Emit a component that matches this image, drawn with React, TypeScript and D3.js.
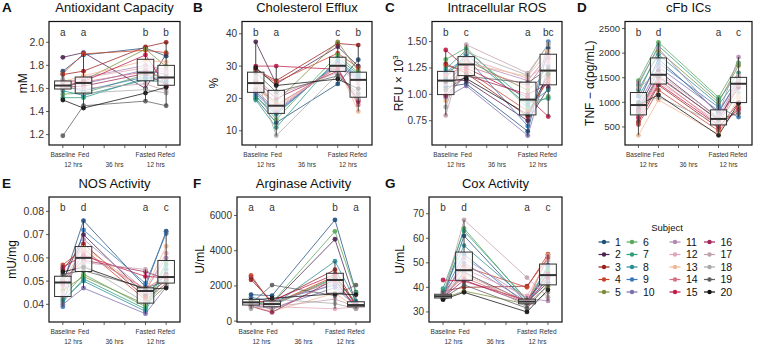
import React from 'react';
import * as d3 from 'd3';

// ---------- DATA ----------
const subjects = d3.range(1, 21).map(String);
const subjectColors = ['#1d4f7c', '#4e2152', '#9a1f1f', '#c9432b', '#7d8c3a', '#58a85a', '#2f9d7c', '#2a8d96', '#3b78b8', '#7c6eb0',
  '#b189b4', '#e2a6b8', '#f0b894', '#d66f80', '#c01c4a', '#a0285a', '#c2a1aa', '#a9a9a9', '#5e5e5e', '#111111'];

const timepoints = ['Baseline', 'Fed', 'Fasted', 'Refed'];
const timeX = [1, 2, 5, 6];
const axisTicks = [1, 2, 3, 4, 5, 6];
const tickLabels = ['Baseline', 'Fed', '', '', 'Fasted', 'Refed'];
const durationPos = [1.5, 3.5, 5.5];
const durationText = ['12 hrs', '36 hrs', '12 hrs'];

// A: Antioxidant Capacity (mM)
const antioxBaseline = [1.75, 1.87, 1.72, 1.73, 1.60, 1.55, 1.52, 1.58, 1.62, 1.63, 1.64, 1.65, 1.66, 1.66, 1.62, 1.61, 1.60, 1.68, 1.19, 1.50];
const antioxFed = [1.89, 1.91, 1.75, 1.90, 1.67, 1.56, 1.52, 1.54, 1.58, 1.64, 1.695, 1.69, 1.71, 1.655, 1.66, 1.62, 1.60, 1.56, 1.45, 1.43];
const antioxFasted = [1.95, 1.60, 1.96, 1.93, 1.94, 1.72, 1.69, 1.675, 1.70, 1.76, 1.80, 1.78, 1.84, 1.745, 1.89, 1.73, 1.64, 1.59, 1.49, 1.56];
const antioxRefed = [1.88, 1.90, 2.00, 1.91, 1.79, 1.70, 1.66, 1.65, 1.68, 1.72, 1.76, 1.74, 1.83, 1.69, 1.62, 1.63, 1.58, 1.56, 1.45, 1.61];

// B: Cholesterol Efflux (%)
const effluxBaseline = [20.0, 37.5, 29.0, 28.5, 23.0, 21.0, 19.5, 20.5, 21.5, 22.0, 22.5, 24.0, 24.5, 25.0, 30.0, 25.5, 26.0, 27.0, 28.0, 29.5];
const effluxFed = [12.5, 24.5, 25.5, 25.0, 19.0, 13.5, 11.0, 15.0, 15.5, 16.0, 16.5, 17.0, 17.5, 18.0, 30.0, 20.0, 21.0, 8.5, 22.0, 24.0];
const effluxFasted = [24.5, 36.0, 37.0, 34.0, 37.5, 33.5, 32.5, 31.5, 31.0, 30.5, 30.2, 30.0, 29.8, 29.5, 29.0, 28.5, 28.0, 27.5, 27.0, 26.0];
const effluxRefed = [32.0, 30.0, 36.5, 29.5, 28.5, 28.0, 27.5, 27.0, 26.5, 26.0, 25.5, 24.5, 16.0, 18.0, 19.0, 19.5, 20.0, 20.5, 21.5, 23.0];

// C: Intracellular ROS (RFU x 10^3)
const rosBaseline = [1.07, 1.14, 1.29, 1.27, 1.20, 1.33, 1.24, 1.16, 1.21, 0.97, 1.10, 1.00, 0.94, 1.18, 1.42, 0.99, 0.80, 0.88, 1.04, 1.12];
const rosFed = [1.10, 1.13, 1.20, 1.23, 1.32, 1.44, 1.42, 1.38, 1.35, 1.08, 1.31, 1.34, 1.295, 1.27, 1.25, 1.18, 1.47, 1.40, 1.17, 1.15];
const rosFasted = [0.65, 0.75, 0.79, 0.84, 1.04, 0.87, 0.93, 0.90, 0.70, 0.61, 1.13, 1.15, 1.17, 1.08, 0.97, 1.00, 1.20, 1.18, 1.11, 0.81];
const rosRefed = [1.44, 1.06, 1.16, 1.13, 1.21, 0.98, 0.96, 1.04, 1.50, 1.27, 1.37, 1.30, 1.41, 1.34, 0.79, 1.10, 1.47, 1.48, 1.24, 1.19];

// D: cFb ICs TNF-alpha (pg/mL)
const tnfBaseline = [1000, 870, 600, 550, 1180, 1440, 1350, 1260, 1120, 940, 1400, 730, 330, 750, 680, 830, 1300, 960, 790, 950];
const tnfFed = [1880, 1640, 1350, 1250, 2050, 2220, 2150, 1970, 1800, 1720, 2100, 1420, 1050, 1470, 1380, 1540, 1580, 1100, 1510, 1150];
const tnfFasted = [790, 675, 480, 420, 1000, 1100, 1050, 950, 900, 830, 740, 600, 350, 545, 530, 630, 700, 570, 650, 330];
const tnfRefed = [1480, 1300, 1000, 900, 1750, 1800, 1600, 1500, 700, 1420, 1920, 1530, 1100, 1360, 850, 1395, 1450, 1200, 780, 980];

// E: NOS Activity (mU/mg)
const nosBaseline = [0.049, 0.050, 0.055, 0.057, 0.046, 0.043, 0.041, 0.042, 0.039, 0.040, 0.0435, 0.045, 0.0498, 0.048, 0.056, 0.0505, 0.051, 0.0518, 0.053, 0.054];
const nosFed = [0.076, 0.070, 0.066, 0.064, 0.052, 0.053, 0.051, 0.050, 0.072, 0.047, 0.068, 0.063, 0.0645, 0.062, 0.061, 0.059, 0.058, 0.057, 0.0545, 0.056];
const nosFasted = [0.0475, 0.044, 0.043, 0.042, 0.040, 0.039, 0.038, 0.037, 0.049, 0.036, 0.046, 0.0455, 0.0462, 0.0468, 0.052, 0.054, 0.055, 0.0407, 0.047, 0.0465];
const nosRefed = [0.0715, 0.053, 0.0505, 0.049, 0.048, 0.0585, 0.057, 0.055, 0.0705, 0.0475, 0.060, 0.062, 0.065, 0.052, 0.0515, 0.051, 0.0485, 0.0492, 0.050, 0.047];

// F: Arginase Activity (U/mL)
const argBaseline = [1500, 2500, 2350, 2600, 1200, 1150, 1100, 1080, 1350, 900, 1030, 980, 870, 920, 1050, 830, 780, 700, 1000, 1180];
const argFed = [1450, 1010, 1100, 950, 920, 1050, 880, 850, 1130, 720, 650, 820, 550, 990, 1170, 500, 800, 1250, 2050, 1300];
const argFasted = [5750, 4650, 2920, 2550, 2480, 5100, 2420, 3400, 2050, 1900, 2200, 700, 1590, 2300, 2650, 2370, 1250, 1000, 1450, 1550];
const argRefed = [1650, 1000, 900, 950, 1090, 1600, 1050, 1130, 925, 870, 850, 800, 750, 780, 890, 720, 820, 700, 2050, 1500];

// G: Cox Activity (U/mL)
const coxBaseline = [36.0, 35.4, 38.5, 37.5, 35.5, 36.8, 39.5, 38.0, 37.1, 36.5, 35.2, 36.3, 36.6, 37.0, 43.0, 35.9, 36.2, 35.7, 35.6, 35.0];
const coxFed = [61.0, 46.0, 40.0, 48.5, 38.5, 64.0, 63.0, 57.0, 53.5, 50.0, 52.0, 47.5, 45.0, 44.0, 42.5, 43.0, 67.5, 46.5, 41.0, 38.0];
const coxFasted = [33.6, 34.0, 40.5, 40.0, 33.2, 34.5, 35.0, 35.1, 32.8, 34.1, 35.5, 36.5, 34.3, 33.8, 34.7, 33.35, 44.0, 32.0, 31.5, 30.0];
const coxRefed = [46.0, 42.0, 52.0, 53.5, 40.5, 47.0, 48.0, 44.5, 49.0, 43.0, 34.5, 51.0, 53.0, 52.5, 45.5, 44.0, 36.0, 38.0, 41.2, 39.0];

const sigA = ['a', 'a', 'b', 'b'];
const sigB = ['b', 'a', 'c', 'b'];
const sigC = ['b', 'c', 'a', 'bc'];
const sigD = ['b', 'd', 'a', 'c'];
const sigE = ['b', 'd', 'a', 'c'];
const sigF = ['a', 'a', 'b', 'a'];
const sigG = ['b', 'd', 'a', 'c'];

const ticksA = [1.2, 1.4, 1.6, 1.8, 2.0];
const ticksB = [10, 20, 30, 40];
const ticksC = [0.75, 1.0, 1.25, 1.5];
const ticksD = [500, 1000, 1500, 2000, 2500];
const ticksE = [0.04, 0.05, 0.06, 0.07, 0.08];
const ticksF = [0, 2000, 4000, 6000];
const ticksG = [30, 40, 50, 60, 70];

// ---------- LAYOUT ----------
const FONT = 'Liberation Sans, Arial, Helvetica, sans-serif';

type Panel = {
  letter: string; title: string; series: number[][]; sig: string[]; ticks: number[]; fmt: (v: number) => string;
  x0: number; x1: number; y0: number; y1: number; dom: [number, number]; letterX: number; ylabX: number;
  ylab: React.ReactNode; tickFont: number;
};

const panels: Panel[] = [
  { letter: 'A', title: 'Antioxidant Capacity', series: [antioxBaseline, antioxFed, antioxFasted, antioxRefed], sig: sigA, ticks: ticksA, fmt: d3.format('.1f'),
    x0: 49, x1: 180, y0: 21.5, y1: 145, dom: [1.11, 2.18], letterX: 2, ylabX: 23, ylab: 'mM', tickFont: 10.5 },
  { letter: 'B', title: 'Cholesterol Efflux', series: [effluxBaseline, effluxFed, effluxFasted, effluxRefed], sig: sigB, ticks: ticksB, fmt: d3.format('d'),
    x0: 242, x1: 372, y0: 21.5, y1: 145, dom: [5.6, 43.8], letterX: 193, ylabX: 214, ylab: '%', tickFont: 10 },
  { letter: 'C', title: 'Intracellular ROS', series: [rosBaseline, rosFed, rosFasted, rosRefed], sig: sigC, ticks: ticksC, fmt: d3.format('.2f'),
    x0: 432, x1: 562, y0: 21.5, y1: 145, dom: [0.52, 1.69], letterX: 385, ylabX: 399, ylab: null, tickFont: 10 },
  { letter: 'D', title: 'cFb ICs', series: [tnfBaseline, tnfFed, tnfFasted, tnfRefed], sig: sigD, ticks: ticksD, fmt: d3.format('d'),
    x0: 625, x1: 752, y0: 21.5, y1: 145, dom: [133, 2643], letterX: 577, ylabX: 590, ylab: null, tickFont: 9.5 },
  { letter: 'E', title: 'NOS Activity', series: [nosBaseline, nosFed, nosFasted, nosRefed], sig: sigE, ticks: ticksE, fmt: d3.format('.2f'),
    x0: 49, x1: 180, y0: 197, y1: 322, dom: [0.0324, 0.0862], letterX: 2, ylabX: 12, ylab: 'mU/mg', tickFont: 10.5 },
  { letter: 'F', title: 'Arginase Activity', series: [argBaseline, argFed, argFasted, argRefed], sig: sigF, ticks: ticksF, fmt: d3.format('d'),
    x0: 237, x1: 370, y0: 197, y1: 322, dom: [-50, 7050], letterX: 193, ylabX: 200, ylab: 'U/mL', tickFont: 10 },
  { letter: 'G', title: 'Cox Activity', series: [coxBaseline, coxFed, coxFasted, coxRefed], sig: sigG, ticks: ticksG, fmt: d3.format('d'),
    x0: 429, x1: 562, y0: 197, y1: 322, dom: [25.9, 76.8], letterX: 385, ylabX: 400, ylab: 'U/mL', tickFont: 10 },
];

function boxStats(values: number[]) {
  const s = [...values].sort(d3.ascending);
  const q1 = d3.quantile(s, 0.25)!;
  const med = d3.quantile(s, 0.5)!;
  const q3 = d3.quantile(s, 0.75)!;
  const iqr = q3 - q1;
  const lo = d3.min(s.filter(v => v >= q1 - 1.5 * iqr))!;
  const hi = d3.max(s.filter(v => v <= q3 + 1.5 * iqr))!;
  return { q1, med, q3, lo, hi };
}

function PanelView({ p }: { p: Panel }) {
  const x = d3.scaleLinear().domain([0.33, 6.67]).range([p.x0, p.x1]);
  const y = d3.scaleLinear().domain(p.dom).range([p.y1, p.y0]);
  const step = x(2) - x(1);
  const bw = step * 0.8;
  const line = d3.line<[number, number]>().x(d => x(d[0])).y(d => y(d[1]));
  const cx = (p.x0 + p.x1) / 2;
  const cy = (p.y0 + p.y1) / 2;
  let ylab: React.ReactNode = p.ylab;
  if (p.letter === 'C') {
    ylab = (<>RFU × 10<tspan dy={-5} fontSize={8}>3</tspan></>);
  } else if (p.letter === 'D') {
    ylab = 'TNF − α(pg/mL)';
  }
  return (
    <g>
      <text x={p.letterX} y={p.y0 - 9.5} fontSize={13.5} fontWeight="bold" fill="#111">{p.letter}</text>
      <text x={cx} y={p.y0 - 9.5} fontSize={13} textAnchor="middle" fill="#111">{p.title}</text>
      {/* subject lines */}
      {subjects.map((s, i) => (
        <path key={'l' + s} d={line(timeX.map((t, k) => [t, p.series[k][i]] as [number, number]))!}
          fill="none" stroke={subjectColors[i]} strokeWidth={0.95} strokeOpacity={0.8} />
      ))}
      {subjects.map((s, i) => timeX.map((t, k) => (
        <circle key={'c' + s + k} cx={x(t)} cy={y(p.series[k][i])} r={2.4} fill={subjectColors[i]} fillOpacity={0.9} />
      )))}
      {/* boxplots */}
      {timeX.map((t, k) => {
        const b = boxStats(p.series[k]);
        const xc = x(t);
        return (
          <g key={'b' + k}>
            <line x1={xc} x2={xc} y1={y(b.hi)} y2={y(b.q3)} stroke="#333" strokeWidth={0.9} />
            <line x1={xc} x2={xc} y1={y(b.q1)} y2={y(b.lo)} stroke="#333" strokeWidth={0.9} />
            <rect x={xc - bw / 2} y={y(b.q3)} width={bw} height={y(b.q1) - y(b.q3)} fill="#ffffff" fillOpacity={0.7} stroke="#333" strokeWidth={1} />
            <line x1={xc - bw / 2} x2={xc + bw / 2} y1={y(b.med)} y2={y(b.med)} stroke="#333" strokeWidth={2} />
          </g>
        );
      })}
      {/* significance letters */}
      {timeX.map((t, k) => (
        <text key={'s' + k} x={x(t)} y={p.y0 + 14} fontSize={10} textAnchor="middle" fill="#333">{p.sig[k]}</text>
      ))}
      {/* frame */}
      <rect x={p.x0} y={p.y0} width={p.x1 - p.x0} height={p.y1 - p.y0} fill="none" stroke="#111" strokeWidth={1.2} />
      {/* y axis */}
      {p.ticks.map(v => (
        <g key={'yt' + v}>
          <line x1={p.x0 - 3} x2={p.x0} y1={y(v)} y2={y(v)} stroke="#333" strokeWidth={0.8} />
          <text x={p.x0 - 5} y={y(v)} dy="0.35em" fontSize={p.tickFont} textAnchor="end" fill="#333">{p.fmt(v)}</text>
        </g>
      ))}
      <text transform={`translate(${p.ylabX},${cy}) rotate(-90)`} fontSize={12} textAnchor="middle" dy="0.35em" fill="#111">{ylab}</text>
      {/* x axis */}
      {axisTicks.map((t, k) => (
        <g key={'xt' + t}>
          <line x1={x(t)} x2={x(t)} y1={p.y1} y2={p.y1 + 3} stroke="#333" strokeWidth={0.8} />
          {tickLabels[k] && <text x={x(t)} y={p.y1 + 11.5} fontSize={6.5} textAnchor="middle" fill="#333">{tickLabels[k]}</text>}
        </g>
      ))}
      {durationPos.map((t, k) => (
        <text key={'d' + k} x={x(t)} y={p.y1 + 21.5} fontSize={6.5} textAnchor="middle" fill="#333">{durationText[k]}</text>
      ))}
    </g>
  );
}

const legendKeyX = [604, 632, 675, 709.5];

function Legend() {
  return (
    <g>
      <text x={667} y={230.5} fontSize={9.5} textAnchor="middle" fill="#111">Subject</text>
      {subjects.map((s, i) => {
        const col = Math.floor(i / 5);
        const row = i % 5;
        const kx = legendKeyX[col];
        const ky = 242 + row * 12.5;
        return (
          <g key={'lg' + s}>
            <line x1={kx - 5.5} x2={kx + 5.5} y1={ky} y2={ky} stroke={subjectColors[i]} strokeWidth={1.2} />
            <circle cx={kx} cy={ky} r={2.2} fill={subjectColors[i]} />
            <text x={kx + 11} y={ky} dy="0.35em" fontSize={10.5} fill="#111">{s}</text>
          </g>
        );
      })}
    </g>
  );
}

export default function App() {
  return (
    <svg width={757} height={344} style={{ position: 'absolute', left: 0, top: 0, background: '#fff' }} fontFamily={FONT}>
      <rect width={757} height={344} fill="#fff" />
      {panels.map(p => <PanelView key={p.letter} p={p} />)}
      <Legend />
    </svg>
  );
}
